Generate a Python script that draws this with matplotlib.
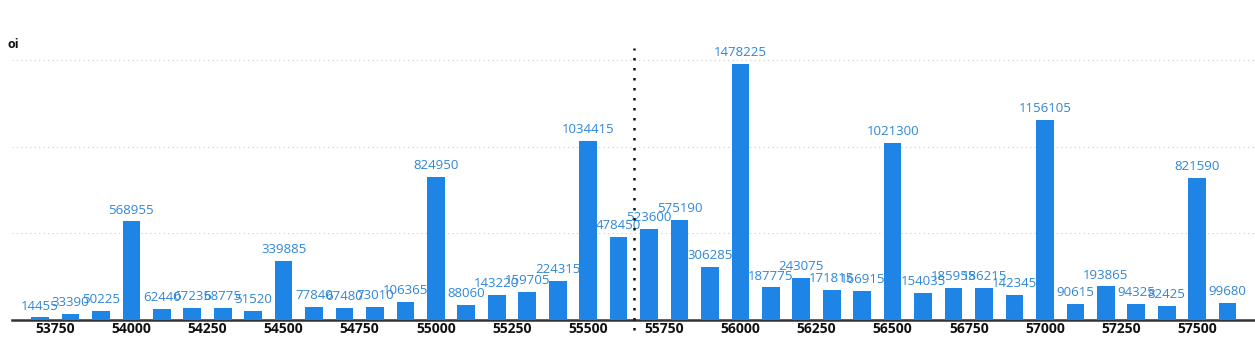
import matplotlib
matplotlib.use("Agg")
import matplotlib.pyplot as plt

strikes = list(range(53700, 57700, 100))
oi = [14455, 33390, 50225, 568955, 62440, 67235, 68775, 51520, 339885, 77840,
      67480, 73010, 106365, 824950, 88060, 143220, 159705, 224315, 1034415, 478450,
      523600, 575190, 306285, 1478225, 187775, 243075, 171815, 166915, 1021300, 154035,
      185955, 186215, 142345, 1156105, 90615, 193865, 94325, 82425, 821590, 99680]
tick_vals = list(range(53750, 57501, 250))
grid_vals = [500000, 1000000, 1500000]
spot = 55650

plt.rcParams['font.family'] = ['Open Sans', 'DejaVu Sans']

fig = plt.figure(figsize=(12.55, 3.41), dpi=100)
ax = fig.add_axes([12/1255, 21/341, 1243/1255, 270/341])

bar_color = '#1e84e6'
lab_color = '#2f86d6'
ax.bar(strikes, oi, width=58, color=bar_color, zorder=3)
for x, v in zip(strikes, oi):
    ax.annotate(str(v), (x, v), xytext=(0, 3.5), textcoords='offset points',
                ha='center', va='bottom', fontsize=9.5, color=lab_color, zorder=4)

ax.set_xlim(53608, 57690)
ax.set_ylim(0, 1.558e6)
for g in grid_vals:
    ax.axhline(g, color='#cccccc', linestyle=(0, (1, 3)), linewidth=0.8, zorder=1)

ax.axvline(spot, ymin=-0.037, ymax=1.007, color='#111111', linestyle=(0, (1, 3)),
           linewidth=1.8, clip_on=False, zorder=5)

ax.set_xticks(tick_vals)
ax.set_xticklabels([str(t) for t in tick_vals], fontweight='bold', fontsize=10, color='#111111')
ax.tick_params(axis='x', length=0, pad=1.5)
ax.set_yticks([])
for s in ['top', 'right', 'left']:
    ax.spines[s].set_visible(False)
ax.spines['bottom'].set_color('#333333')
ax.spines['bottom'].set_linewidth(1.8)

fig.text(8/1255, 1 - 45/341, 'oi', fontsize=9, fontweight='bold', color='#111111',
         ha='left', va='center')

fig.savefig('out.png', dpi=100)
